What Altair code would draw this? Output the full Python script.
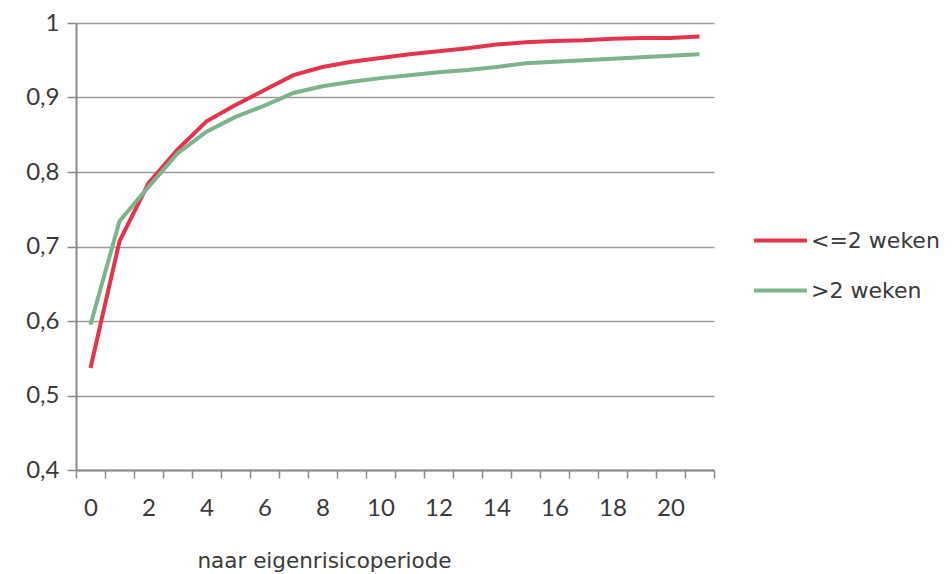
import altair as alt
import pandas as pd

x_vals = list(range(22))
red = [0.537, 0.707, 0.785, 0.830, 0.868, 0.890, 0.910, 0.930, 0.941, 0.948, 0.953,
       0.958, 0.962, 0.966, 0.971, 0.974, 0.976, 0.977, 0.979, 0.980, 0.980, 0.982]
green = [0.595, 0.734, 0.780, 0.825, 0.854, 0.874, 0.889, 0.906, 0.915, 0.921, 0.926,
         0.930, 0.934, 0.937, 0.941, 0.946, 0.948, 0.950, 0.952, 0.954, 0.956, 0.958]
series = ["<=2 weken", ">2 weken"]
colors = ["#E4344C", "#7DB48B"]
y_ticks = [0.4, 0.5, 0.6, 0.7, 0.8, 0.9, 1.0]

rows = []
for i, x in enumerate(x_vals):
    rows.append({"x": x, "y": red[i], "s": series[0]})
    rows.append({"x": x, "y": green[i], "s": series[1]})
df = pd.DataFrame(rows)

FONT = "Lato"
FONT2 = "DejaVu Sans"
axis_color = "#8a8a8a"
text_color = "#3a3a3a"

chart = alt.Chart(df).mark_line(strokeWidth=4).encode(
    x=alt.X("x:O", sort=x_vals,
            scale=alt.Scale(paddingInner=0, paddingOuter=0),
            axis=alt.Axis(title="naar eigenrisicoperiode", labelAngle=0,
                          labelExpr="datum.value % 2 == 0 ? datum.label : ''",
                          tickBand="extent", tickSize=8, tickColor=axis_color,
                          tickWidth=1.5, domainColor=axis_color, domainWidth=2,
                          labelFont=FONT, labelFontSize=24, labelColor=text_color,
                          labelPadding=18, grid=False,
                          titleFont=FONT2, titleFontSize=21.5, titleFontWeight="normal",
                          titleColor=text_color, titleX=248, titleY=97,
                          titleBaseline="alphabetic", titleAnchor="middle", titleAlign="center")),
    y=alt.Y("y:Q", scale=alt.Scale(domain=[0.4, 1.0], nice=False, zero=False),
            axis=alt.Axis(title=None, values=y_ticks,
                          labelExpr="datum.value >= 0.999 ? '1' : replace(format(datum.value, '.1f'), '.', ',')",
                          tickSize=9, tickColor=axis_color, tickWidth=1.5,
                          domainColor=axis_color, domainWidth=2,
                          gridColor="#9a9a9a", gridWidth=1.5,
                          labelFont=FONT, labelFontSize=24, labelColor=text_color,
                          labelPadding=8)),
    color=alt.Color("s:N", scale=alt.Scale(domain=series, range=colors),
                    legend=alt.Legend(title=None, orient="none", legendX=676, legendY=189,
                                      symbolType="stroke", symbolSize=2800,
                                      symbolStrokeWidth=4, labelFont=FONT2,
                                      labelFontSize=22, labelColor=text_color,
                                      labelOffset=2, rowPadding=10)),
).properties(
    width=638, height=447,
    autosize=alt.AutoSizeParams(type="none"),
    padding={"left": 68, "top": 15, "right": 230, "bottom": 103},
).configure_view(stroke=None)

chart.save("out.html", embed_options={"renderer": "svg", "actions": False})
